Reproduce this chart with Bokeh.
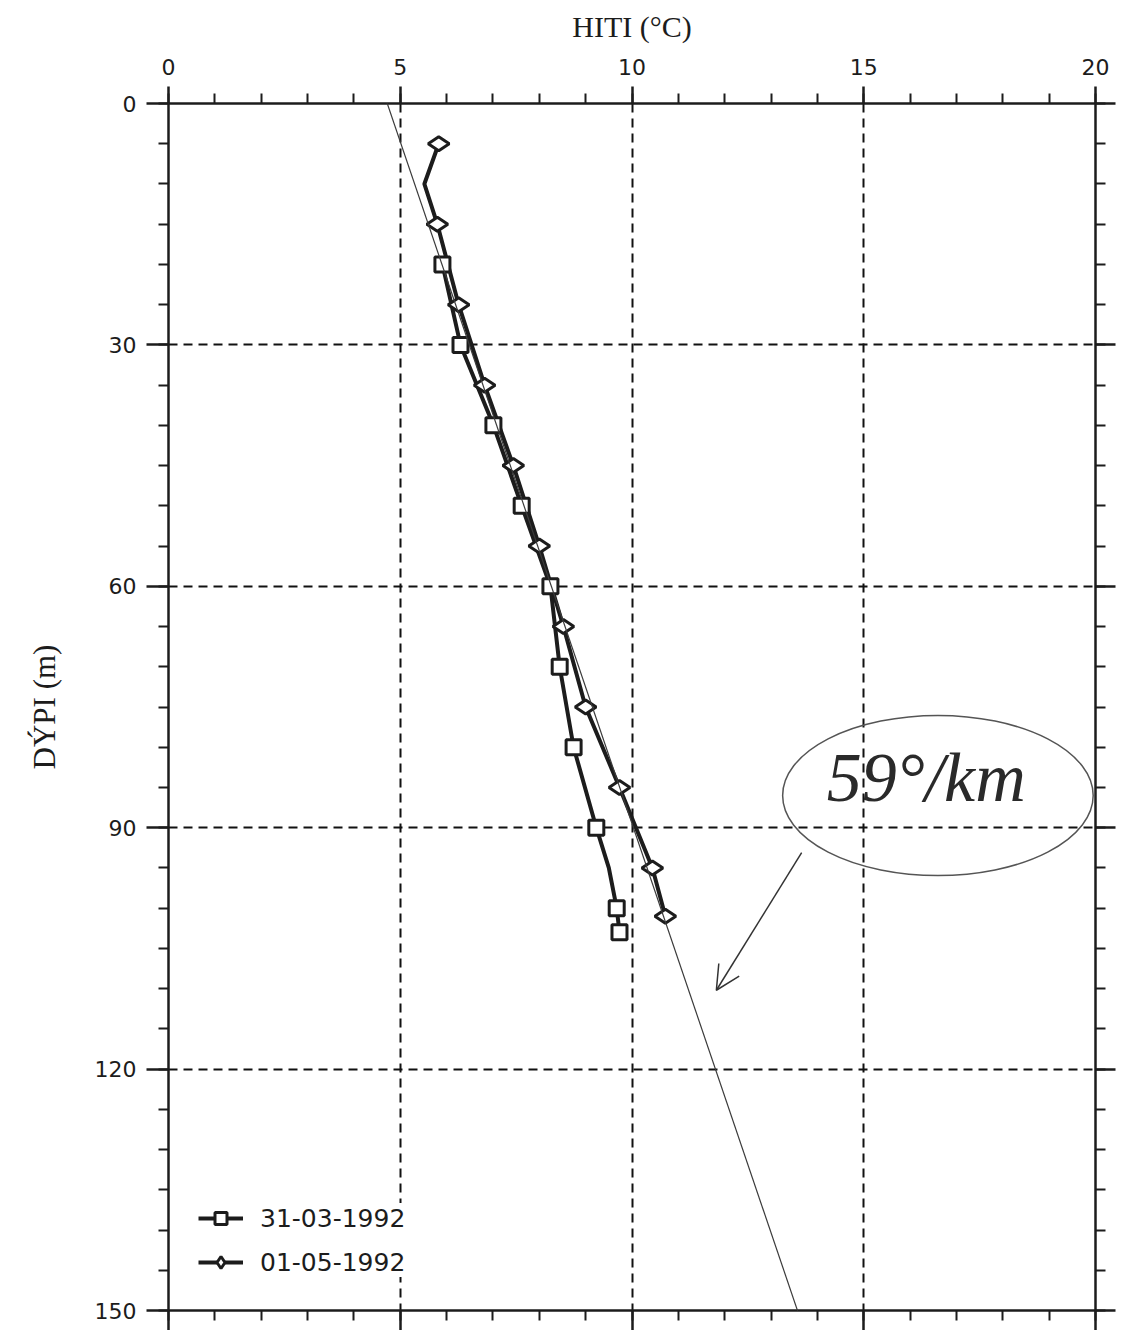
from bokeh.plotting import figure
from bokeh.models import (Range1d, FixedTicker, LinearAxis, ColumnDataSource, Legend,
                          LegendItem, Arrow, OpenHead, CustomJSTickFormatter, Label)
from bokeh.embed import file_html
from bokeh.resources import INLINE
import math

# ---------------- data ----------------
# Series 31-03-1992 (squares): depth (m), temperature (°C), marker shown?
sq_depth = [20, 30, 40, 50, 60, 70, 80, 90, 95, 100, 103]
sq_temp = [5.91, 6.30, 7.01, 7.62, 8.24, 8.44, 8.74, 9.23, 9.50, 9.67, 9.73]
sq_marked = [1, 1, 1, 1, 1, 1, 1, 1, 0, 1, 1]

# Series 01-05-1992 (diamonds)
di_depth = [5, 10, 15, 25, 35, 45, 55, 65, 75, 85, 95, 101]
di_temp = [5.83, 5.52, 5.80, 6.26, 6.82, 7.44, 8.00, 8.52, 9.00, 9.73, 10.44, 10.72]
di_marked = [1, 0, 1, 1, 1, 1, 1, 1, 1, 1, 1, 1]

series_labels = ["31-03-1992", "01-05-1992"]

x_major = [0, 5, 10, 15, 20]
x_minor = list(range(0, 21))
y_major = [0, 30, 60, 90, 120, 150]
y_minor = list(range(0, 151, 5))

# hand-drawn annotation: gradient line (59 °C/km) and note
grad_t0 = 4.72          # °C at 0 m
grad_rate = 0.059       # °C per m (59 °C/km)
grad_depths = [-13, 153]
note_text = "59°/km"
note_pos = [14.2, 88.5]
ellipse_c = [16.6, 86.0]
ellipse_wh = [6.7, 19.9]
arrow_from = [13.66, 93.1]
arrow_to = [11.82, 110.2]

INK = "#1c1c1c"
TICK_FONT = "DejaVu Sans"
TITLE_FONT = "Liberation Serif"

p = figure(width=1121, height=1330, x_range=Range1d(0, 20), y_range=Range1d(150, 0),
           x_axis_location="above", output_backend="svg", toolbar_location=None,
           min_border_left=168, min_border_right=26, min_border_top=103, min_border_bottom=20)
p.outline_line_color = None
p.background_fill_color = "white"
p.border_fill_color = "white"

def style_axis(ax, labels=True):
    ax.axis_line_color = INK
    ax.axis_line_width = 2.5
    ax.major_tick_line_color = INK
    ax.major_tick_line_width = 2.5
    ax.minor_tick_line_color = INK
    ax.minor_tick_line_width = 2
    ax.major_tick_in = 0
    ax.minor_tick_in = 0
    ax.minor_tick_out = 10
    if labels:
        ax.major_label_text_font = TICK_FONT
        ax.major_label_text_font_size = "22px"
        ax.major_label_text_color = INK
    else:
        ax.formatter = CustomJSTickFormatter(code="return ''")
        ax.major_label_text_font_size = "0px"
        ax.major_label_standoff = 0

# top axis
xa = p.xaxis[0]
xa.ticker = FixedTicker(ticks=x_major, minor_ticks=x_minor)
style_axis(xa)
xa.major_tick_out = 17
xa.major_label_standoff = 12
xa.axis_label = "HITI (°C)"
xa.axis_label_text_font = TITLE_FONT
xa.axis_label_text_font_size = "30px"
xa.axis_label_text_font_style = "normal"
xa.axis_label_text_color = INK
xa.axis_label_standoff = 13

# left axis
ya = p.yaxis[0]
ya.ticker = FixedTicker(ticks=y_major, minor_ticks=y_minor)
style_axis(ya)
ya.major_tick_out = 22
ya.major_label_standoff = 10
ya.axis_label = "DÝPI (m)"
ya.axis_label_text_font = TITLE_FONT
ya.axis_label_text_font_size = "31px"
ya.axis_label_text_font_style = "normal"
ya.axis_label_text_color = INK
ya.axis_label_standoff = 30

# bottom and right axes (ticks only)
bx = LinearAxis(ticker=FixedTicker(ticks=x_major, minor_ticks=x_minor))
style_axis(bx, labels=False)
bx.major_tick_out = 20
p.add_layout(bx, "below")
ry = LinearAxis(ticker=FixedTicker(ticks=y_major, minor_ticks=y_minor))
style_axis(ry, labels=False)
ry.major_tick_out = 20
p.add_layout(ry, "right")

# grid
p.xgrid.ticker = FixedTicker(ticks=[5, 10, 15])
p.ygrid.ticker = FixedTicker(ticks=[30, 60, 90, 120])
for g in (p.xgrid, p.ygrid):
    g.grid_line_color = "#111111"
    g.grid_line_width = 2
    g.grid_line_dash = "9 6"

# hand-drawn gradient line
p.add_layout(Arrow(start=None, end=None,
                   x_start=grad_t0 + grad_rate * grad_depths[0], y_start=grad_depths[0],
                   x_end=grad_t0 + grad_rate * grad_depths[1], y_end=grad_depths[1],
                   line_color="#3a3a3a", line_width=1.2))

# series
sq_src = ColumnDataSource(dict(x=sq_temp, y=sq_depth))
sq_msrc = ColumnDataSource(dict(x=[t for t, m in zip(sq_temp, sq_marked) if m],
                                y=[d for d, m in zip(sq_depth, sq_marked) if m]))
di_src = ColumnDataSource(dict(x=di_temp, y=di_depth))
di_msrc = ColumnDataSource(dict(x=[t for t, m in zip(di_temp, di_marked) if m],
                                y=[d for d, m in zip(di_depth, di_marked) if m]))

sq_line = p.line("x", "y", source=sq_src, line_color=INK, line_width=4)
di_line = p.line("x", "y", source=di_src, line_color=INK, line_width=4)
sq_mark = p.scatter("x", "y", source=sq_msrc, marker="square", size=15,
                    fill_color="white", line_color=INK, line_width=3)
di_mark = p.scatter("x", "y", source=di_msrc, marker="diamond", size=21, angle=math.pi / 2,
                    fill_color="white", line_color=INK, line_width=3)

# annotations
p.ellipse(x=[ellipse_c[0]], y=[ellipse_c[1]], width=[ellipse_wh[0]], height=[ellipse_wh[1]],
          fill_color=None, line_color="#555555", line_width=1.5)
p.add_layout(Arrow(end=OpenHead(size=24, line_color="#333333", line_width=1.5),
                   x_start=arrow_from[0], y_start=arrow_from[1],
                   x_end=arrow_to[0], y_end=arrow_to[1],
                   line_color="#333333", line_width=1.5))
p.add_layout(Label(x=note_pos[0], y=note_pos[1], text=note_text, text_font=TITLE_FONT,
                   text_font_size="70px", text_font_style="italic", text_color="#2a2a2a"))

legend = Legend(items=[LegendItem(label=series_labels[0], renderers=[sq_line, sq_mark]),
                       LegendItem(label=series_labels[1], renderers=[di_line, di_mark])],
                location=(30, 33), glyph_width=45, glyph_height=30, spacing=14, padding=20,
                label_standoff=17, border_line_color=None, background_fill_color="white",
                background_fill_alpha=1.0, label_text_font=TICK_FONT,
                label_text_font_size="25px", label_text_color=INK)
p.add_layout(legend)

open("out.html", "w").write(file_html(p, INLINE))
